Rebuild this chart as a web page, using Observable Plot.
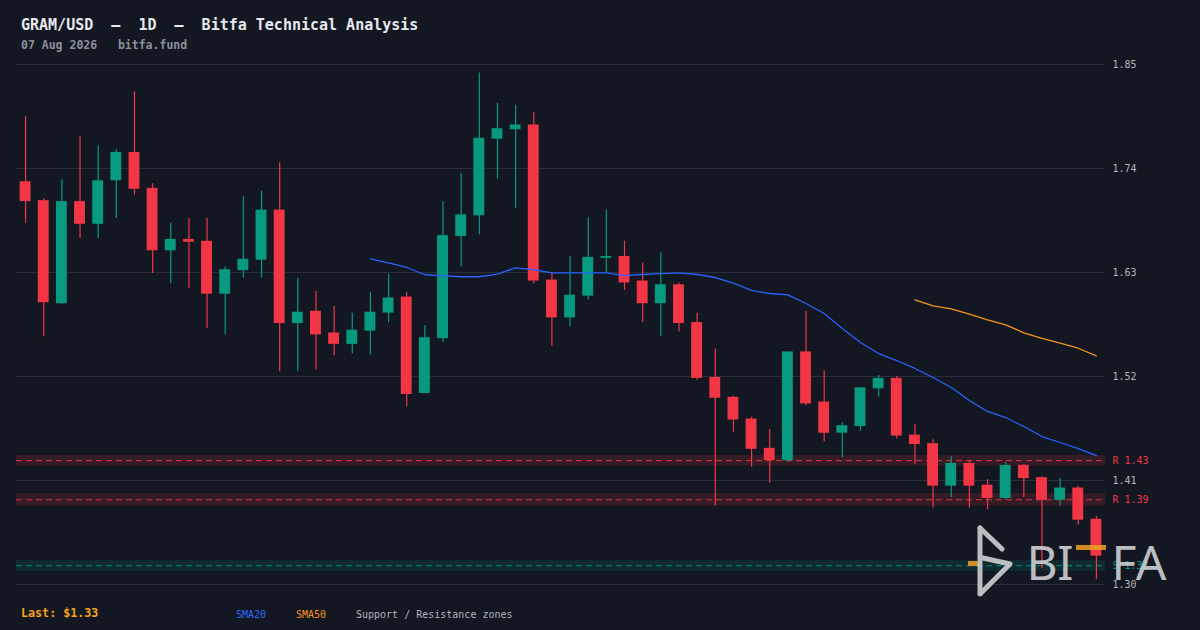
<!DOCTYPE html>
<html>
<head>
<meta charset="utf-8">
<script src="https://cdn.jsdelivr.net/npm/d3@7"></script>
<script src="https://cdn.jsdelivr.net/npm/@observablehq/plot@0.6"></script>
<style>
  html, body { margin: 0; padding: 0; background: #131722; }
  #wrap { position: relative; width: 1200px; height: 630px; background: #131722; overflow: hidden; font-family: "DejaVu Sans Mono", monospace; }
  .abs { position: absolute; white-space: pre; line-height: 1; }
  #title { left: 21px; top: 18px; font-size: 15px; font-weight: bold; color: #e6e8ee; }
  #sub { left: 21px; top: 40px; font-size: 11.5px; font-weight: bold; color: #8b909c; }
  #last { left: 21px; top: 608px; font-size: 11.7px; font-weight: bold; color: #f7a21b; }
  .leg { top: 610px; font-size: 10px; }
  #logo { position: absolute; left: 0; top: 0; pointer-events: none; }
</style>
</head>
<body>
<div id="wrap">
  <div id="chart"></div>
  <div id="title" class="abs">GRAM/USD  –  1D  –  Bitfa Technical Analysis</div>
  <div id="sub" class="abs">07 Aug 2026   bitfa.fund</div>
  <div id="last" class="abs">Last: $1.33</div>
  <div class="abs leg" style="left:236px;color:#2f6bff">SMA20</div>
  <div class="abs leg" style="left:296px;color:#f7931a">SMA50</div>
  <div class="abs leg" style="left:356px;color:#b2b5be">Support / Resistance zones</div>
  <svg id="logo" width="1200" height="630">
    <g opacity="0.85">
      <rect x="968" y="561" width="14" height="5" fill="#f0a020"/>
      <g stroke="#d9dadc" stroke-width="5" stroke-linecap="round" stroke-linejoin="round" fill="none">
        <line x1="980" y1="528" x2="980" y2="594"/>
        <line x1="980" y1="528" x2="1002" y2="549"/>
        <polyline points="983,558 1010,564 981,593"/>
      </g>
      <g fill="#d9dadc" font-family="Noto Sans" font-size="48" text-anchor="middle">
        <text x="1042" y="580">B</text>
        <text x="1065.5" y="580">I</text>
        <text x="1124" y="580">F</text>
        <text x="1151" y="580">A</text>
      </g>
      <rect x="1076" y="545" width="30" height="5" fill="#f0a020"/>
    </g>
  </svg>
</div>
<script>
// ---- data ----
const opens  = [1.726,1.706,1.597,1.705,1.681,1.727,1.757,1.719,1.653,1.665,1.663,1.607,1.632,1.643,1.696,1.576,1.589,1.566,1.554,1.568,
                1.587,1.604,1.502,1.560,1.668,1.690,1.771,1.781,1.786,1.622,1.582,1.605,1.645,1.647,1.621,1.597,1.617,1.577,1.519,1.498,
                1.475,1.444,1.431,1.546,1.493,1.460,1.467,1.507,1.518,1.458,1.449,1.404,1.428,1.405,1.391,1.426,1.413,1.389,1.402,1.369];
const highs  = [1.795,1.708,1.728,1.774,1.764,1.760,1.821,1.724,1.682,1.687,1.687,1.636,1.710,1.716,1.746,1.624,1.610,1.594,1.587,1.609,
                1.628,1.609,1.574,1.705,1.735,1.841,1.809,1.807,1.799,1.630,1.647,1.688,1.696,1.663,1.640,1.651,1.619,1.587,1.549,1.499,
                1.477,1.464,1.546,1.589,1.526,1.471,1.508,1.521,1.520,1.469,1.453,1.435,1.431,1.411,1.429,1.427,1.414,1.412,1.404,1.372];
const lows   = [1.682,1.562,1.596,1.666,1.666,1.687,1.712,1.629,1.618,1.613,1.571,1.564,1.624,1.624,1.525,1.525,1.527,1.542,1.544,1.543,
                1.577,1.488,1.502,1.556,1.636,1.670,1.729,1.698,1.618,1.552,1.573,1.601,1.630,1.611,1.577,1.562,1.567,1.516,1.383,1.461,
                1.424,1.407,1.429,1.489,1.451,1.434,1.462,1.498,1.454,1.427,1.381,1.392,1.381,1.379,1.390,1.392,1.317,1.383,1.363,1.305];
const closes = [1.705,1.598,1.705,1.681,1.727,1.757,1.718,1.653,1.665,1.662,1.607,1.633,1.644,1.696,1.576,1.588,1.564,1.554,1.569,1.588,
                1.603,1.501,1.561,1.669,1.691,1.772,1.782,1.786,1.621,1.582,1.606,1.646,1.647,1.619,1.597,1.617,1.576,1.518,1.497,1.474,
                1.443,1.431,1.546,1.491,1.460,1.468,1.508,1.518,1.457,1.448,1.404,1.428,1.404,1.391,1.426,1.412,1.389,1.402,1.368,1.330];
const sma20Start = 19;
const sma20 = [1.6445,1.6403,1.6353,1.6276,1.6268,1.6255,1.6255,1.6282,1.6350,1.6329,1.6297,1.6297,1.6297,1.6297,1.6268,1.6279,1.6289,1.6297,1.6279,1.6247,
               1.6187,1.6110,1.6078,1.6064,1.5972,1.5866,1.5708,1.5560,1.5443,1.5369,1.5285,1.5189,1.5084,1.4946,1.4830,1.4766,1.4671,1.4565,1.4502,1.4438,1.4364];
const sma50Start = 49;
const sma50 = [1.6011,1.5948,1.5916,1.5859,1.5800,1.5747,1.5662,1.5602,1.5552,1.5499,1.5419];
const zoneLevels = [1.431, 1.3896, 1.3198];
const zoneLow    = [1.4252, 1.3828, 1.3137];
const zoneHigh   = [1.4365, 1.3962, 1.3254];
const zoneKinds  = ["R", "R", "S"];
const zoneLabels = ["R 1.43", "R 1.39", "S 1.32"];
const yTicks = [1.30, 1.41, 1.52, 1.63, 1.74, 1.85];

// ---- build tables ----
const GREEN = "#089981", RED = "#f23645";
const candles = opens.map((o, i) => ({i, o, h: highs[i], l: lows[i], c: closes[i]}));
const col = d => d.c >= d.o ? GREEN : RED;
const s20 = sma20.map((v, k) => ({i: k + sma20Start, v}));
const s50 = sma50.map((v, k) => ({i: k + sma50Start, v}));
const zones = zoneLevels.map((lv, k) => ({lv, lo: zoneLow[k], hi: zoneHigh[k], kind: zoneKinds[k], label: zoneLabels[k]}));
const zoneFill = d => d.kind === "R" ? "#f23645" : "#089981";
const N = candles.length;
const mono = "DejaVu Sans Mono";

const chart = Plot.plot({
  width: 1200,
  height: 630,
  marginLeft: 16,
  marginRight: 95,
  marginTop: 64,
  marginBottom: 46,
  style: {background: "#131722", fontFamily: mono},
  x: {domain: [-0.5, N - 0.5], axis: null},
  y: {domain: [1.30, 1.85], axis: null},
  marks: [
    Plot.rect(zones, {x1: -0.5, x2: N - 0.5, y1: "lo", y2: "hi", fill: zoneFill, fillOpacity: 0.15}),
    Plot.ruleY(yTicks, {stroke: "#2a2e39", strokeWidth: 1}),
    Plot.ruleY(zones, {y: "lv", x1: -0.5, x2: N - 0.5, stroke: zoneFill, strokeWidth: 1, strokeDasharray: "6,4", strokeOpacity: 0.9}),
    Plot.ruleX(candles, {x: "i", y1: "l", y2: "h", stroke: col, strokeWidth: 1.2}),
    Plot.rect(candles, {x1: d => d.i - 0.3, x2: d => d.i + 0.3, y1: "o", y2: "c", fill: col}),
    Plot.line(s20, {x: "i", y: "v", stroke: "#2962ff", strokeWidth: 1.3}),
    Plot.line(s50, {x: "i", y: "v", stroke: "#f7931a", strokeWidth: 1.3}),
    Plot.axisY(yTicks, {anchor: "right", tickSize: 0, tickPadding: 7, tickFormat: d => d.toFixed(2),
      fill: "#b2b5be", fontSize: 10, fontFamily: mono, label: null}),
    Plot.text(zones, {x: N - 0.5, y: "lv", text: "label", dx: 7, textAnchor: "start", fill: zoneFill, fontSize: 10, fontFamily: mono})
  ]
});
document.getElementById("chart").appendChild(chart);
</script>
</body>
</html>
